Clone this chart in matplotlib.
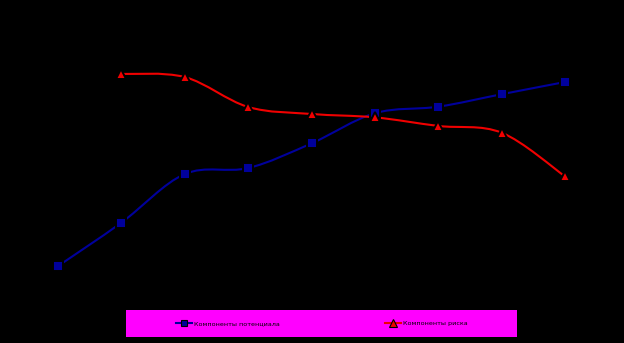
import numpy as np
import matplotlib.pyplot as plt
from matplotlib.path import Path
from matplotlib.patches import PathPatch, Rectangle
from matplotlib.lines import Line2D

# periods 1..9
periods = [1, 2, 3, 4, 5, 6, 7, 8, 9]
potential = [9.2, 25.9, 44.6, 46.9, 56.4, 68.0, 70.5, 75.3, 80.0]
risk = [np.nan, 83.1, 81.9, 70.4, 67.7, 66.4, 63.1, 60.5, 43.7]

blue = "#00009C"
red = "#F00000"
legend_bg = "#FF00FF"


def smooth_path(x, y):
    # Catmull-Rom spline written as cubic Bezier segments
    pts = np.column_stack([x, y])
    pts = pts[~np.isnan(pts[:, 1])]
    n = len(pts)
    verts = [pts[0]]
    codes = [Path.MOVETO]
    for i in range(n - 1):
        p0 = pts[max(i - 1, 0)]
        p1 = pts[i]
        p2 = pts[i + 1]
        p3 = pts[min(i + 2, n - 1)]
        verts += [p1 + (p2 - p0) / 6, p2 - (p3 - p1) / 6, p2]
        codes += [Path.CURVE4] * 3
    return Path(verts, codes)


fig = plt.figure(figsize=(6.24, 3.43), dpi=100, facecolor="black")
ax = fig.add_axes([26.3 / 624, 1 - 290 / 343, 570.4 / 624, 260 / 343])
ax.set_facecolor("black")

xs = np.arange(len(periods), dtype=float)

for vals, col, mk, ms in [(potential, blue, "s", 6.5), (risk, red, "^", 7.0)]:
    ax.add_patch(PathPatch(smooth_path(xs, np.array(vals, dtype=float)),
                           fill=False, edgecolor=col, lw=1.5, zorder=2))
    ax.plot(xs, vals, ls="none", marker=mk, ms=ms, mfc=col,
            mec="black", mew=1.4, zorder=3)

ax.set_xlim(-0.5, len(periods) - 0.5)
ax.set_ylim(0, 100)
ax.set_xticks([])
ax.set_yticks([])
for s in ax.spines.values():
    s.set_visible(False)

# legend strip at the bottom
fig.add_artist(Rectangle((126 / 624, 1 - 337 / 343), 391 / 624, 27 / 343,
                         transform=fig.transFigure, facecolor=legend_bg,
                         edgecolor="none", zorder=1))
handles = [
    Line2D([], [], color=blue, lw=1.5, marker="s", ms=5, mfc=blue, mec="black", mew=0.8),
    Line2D([], [], color=red, lw=1.5, marker="^", ms=5.5, mfc=red, mec="black", mew=0.8),
]
leg = fig.legend(handles, ["Компоненты потенциала", "Компоненты риска"],
                 loc="center", bbox_to_anchor=(321.5 / 624, 1 - 323.5 / 343),
                 ncol=2, frameon=False, fontsize=4.6, handlelength=2.5,
                 handletextpad=0.3, columnspacing=16.5)
leg.set_zorder(2)
for t in leg.get_texts():
    t.set_color("black")

fig.savefig("out.png", dpi=100, facecolor="black")
